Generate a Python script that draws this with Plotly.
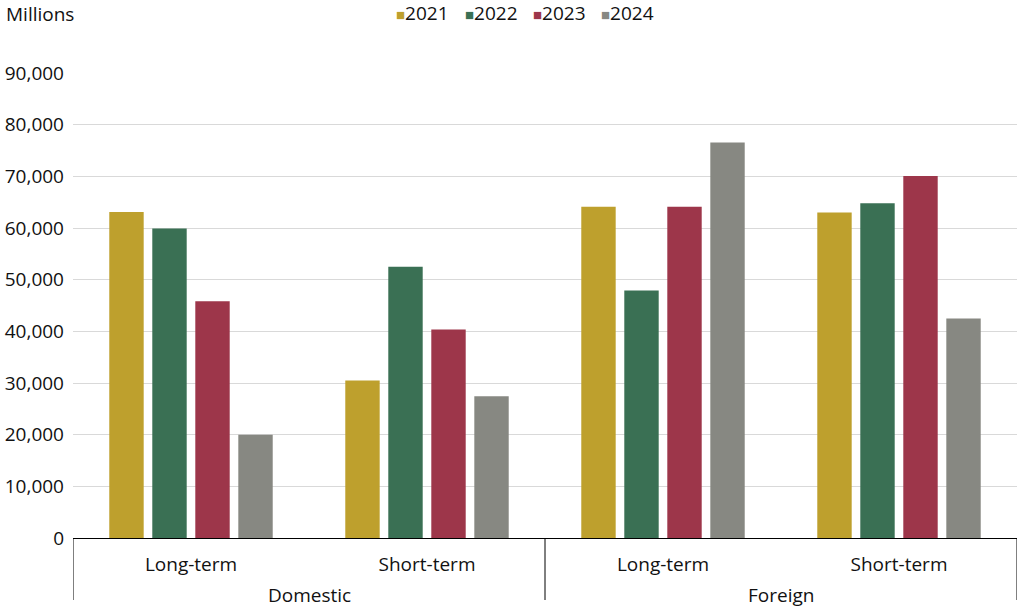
import plotly.graph_objects as go

groups = ["Domestic", "Domestic", "Foreign", "Foreign"]
terms = ["Long-term", "Short-term", "Long-term", "Short-term"]
group_names = ["Domestic", "Foreign"]
years = ["2021", "2022", "2023", "2024"]
v2021 = [63100, 30500, 64100, 63000]
v2022 = [59900, 52500, 47900, 64800]
v2023 = [45800, 40350, 64100, 70050]
v2024 = [20000, 27430, 76550, 42500]
colors = ["#BEA02D", "#3A7054", "#9D364A", "#878882"]
ytick_vals = [0, 10000, 20000, 30000, 40000, 50000, 60000, 70000, 80000, 90000]
ytick_text = ["0", "10,000", "20,000", "30,000", "40,000", "50,000", "60,000", "70,000", "80,000", "90,000"]

FONT = "Open Sans"
TXT = "#111111"
W, H = 1018, 608
L, R, T, B = 73, 1, 73, 70
pw, ph = W - L - R, H - T - B

cats = [f"{g} {t}" for g, t in zip(groups, terms)]

fig = go.Figure()
for name, vals, col in zip(years, [v2021, v2022, v2023, v2024], colors):
    fig.add_trace(go.Bar(
        x=cats, y=vals, name=name, showlegend=False,
        marker=dict(color=col, line=dict(width=0)),
    ))

# custom legend (square glyph tight to text, as in the reference)
legend_x = [394, 463, 531, 599]
anns = []
for name, col, lx in zip(years, colors, legend_x):
    anns.append(dict(
        text=f'<span style="color:{col};font-size:15px">■</span>{name}',
        x=(lx - L) / pw, y=1 + (T - 13) / ph, xref="paper", yref="paper",
        xanchor="left", yanchor="middle", showarrow=False,
        font=dict(size=19, family=FONT, color=TXT)))
anns.append(dict(text="Millions", x=(4 - L) / pw, y=1 + (T - 14) / ph,
                 xref="paper", yref="paper", xanchor="left", yanchor="middle",
                 showarrow=False, font=dict(size=19, family=FONT, color=TXT)))

# group labels, centred under each pair of categories
n_per_group = len(cats) // len(group_names)
for gi, g in enumerate(group_names):
    anns.append(dict(text=g, x=gi * n_per_group + (n_per_group - 1) / 2,
                     y=-(595 - (H - B)) / ph, xref="x", yref="paper",
                     xanchor="center", yanchor="middle", showarrow=False,
                     font=dict(size=19, family=FONT, color=TXT)))

# dividers between groups
shapes = []
for k in range(len(group_names) + 1):
    xd = k * n_per_group - 0.5
    shapes.append(dict(type="line", xref="x", yref="paper", x0=xd, x1=xd,
                       y0=0, y1=-(600 - (H - B)) / ph,
                       line=dict(color="black", width=1)))

fig.update_layout(
    width=W, height=H,
    margin=dict(l=L, r=R, t=T, b=B),
    plot_bgcolor="white", paper_bgcolor="white",
    barmode="group", bargap=0.271, bargroupgap=0.2,
    font=dict(family=FONT, size=19, color=TXT),
    showlegend=False,
    annotations=anns, shapes=shapes,
)
fig.update_yaxes(range=[0, 90000], tickvals=ytick_vals, ticktext=ytick_text,
                 showgrid=True, gridcolor="#d9d9d9", gridwidth=1,
                 zeroline=False, showline=False, ticks="", ticklen=0,
                 tickfont=dict(size=19), ticklabelstandoff=8, automargin=False)
fig.update_xaxes(showline=True, linecolor="black", linewidth=1,
                 tickmode="array", tickvals=cats, ticktext=terms,
                 range=[-0.5, len(cats) - 0.5],
                 ticks="", tickfont=dict(size=19), ticklabelstandoff=9,
                 automargin=False)
fig.write_html("out.html", config={"displayModeBar": False},
               post_script="document.body.style.margin='0';")
